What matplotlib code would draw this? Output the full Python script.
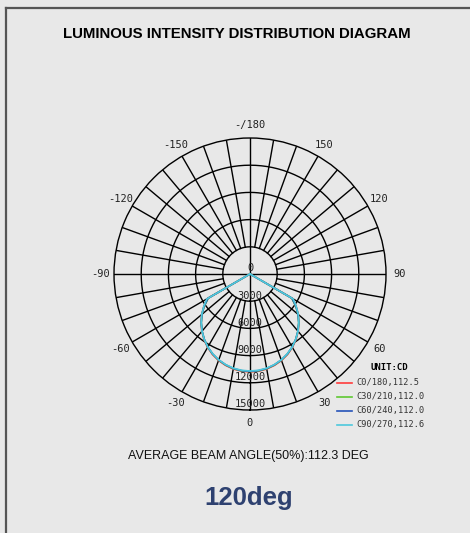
import numpy as np
import matplotlib
matplotlib.use("Agg")
import matplotlib.pyplot as plt
from matplotlib.lines import Line2D
from matplotlib.transforms import offset_copy

# gamma angles (deg) for half a C-plane, mirrored for the opposite plane
gamma = [0, 5, 10, 15, 20, 25, 30, 35, 40, 45, 50, 55, 60, 65, 70, 75, 80, 85, 90]

# intensity (cd) per C-plane pair
c0_180 = [10800, 10760, 10640, 10430, 10150, 9790, 9350, 8840, 8270, 7640, 6950, 6200, 5400, 0, 0, 0, 0, 0, 0]
c30_210 = [10760, 10720, 10600, 10390, 10110, 9750, 9310, 8800, 8230, 7600, 6910, 6160, 5300, 0, 0, 0, 0, 0, 0]
c60_240 = [10740, 10700, 10580, 10370, 10090, 9740, 9300, 8790, 8220, 7600, 6920, 6180, 5350, 0, 0, 0, 0, 0, 0]
c90_270 = [10700, 10660, 10550, 10350, 10080, 9720, 9300, 8800, 8240, 7620, 6950, 6220, 5500, 0, 0, 0, 0, 0, 0]

series = [c0_180, c30_210, c60_240, c90_270]
names = ["C0/180,112.5", "C30/210,112.0", "C60/240,112.0", "C90/270,112.6"]
colors = ["#ff3c3c", "#5ec832", "#2552b8", "#4ec8dc"]

rings = [3000, 6000, 9000, 12000, 15000]
angle_ticks = [0, 30, 60, 90, 120, 150, 180, 210, 240, 270, 300, 330]
angle_labels = ["0", "30", "60", "90", "120", "150", "-/180", "-150", "-120", "-90", "-60", "-30"]

bg = "#e8e8e8"
W, H = 470, 533
fig = plt.figure(figsize=(W / 100, H / 100), dpi=100, facecolor=bg)

# polar axes: centre at (250, 274) px, outer radius 136 px
cx, cy, R = 250, 274, 136
ax = fig.add_axes([(cx - R) / W, (H - cy - R) / H, 2 * R / W, 2 * R / H],
                  projection="polar")
ax.set_facecolor("none")
ax.set_theta_zero_location("S")
ax.set_ylim(0, 15000)
ax.grid(False)
ax.set_xticks([])
ax.set_yticks([])
ax.spines["polar"].set_color("black")
ax.spines["polar"].set_linewidth(1.0)

# grid: circles and radial spokes
t = np.linspace(0, 2 * np.pi, 361)
for r in rings[:-1]:
    ax.plot(t, np.full_like(t, r), color="black", lw=1.0)
for a in range(0, 360, 10):
    th = np.deg2rad(a)
    r0 = 0 if a % 90 == 0 else rings[0]
    ax.plot([th, th], [r0, 15000], color="black", lw=1.0)

# curves
g = np.array(gamma)
for vals, col in zip(series, colors):
    v = np.array(vals)
    th = np.deg2rad(np.concatenate([-g[::-1], g[1:]]))
    rr = np.concatenate([v[::-1], v[1:]])
    ax.plot(th, rr, color=col, lw=1.2)

# radial labels along the downward axis
lab_tr = offset_copy(ax.transData, fig=fig, y=4.0, units="points")
for r in [0] + rings:
    ax.text(0, r, str(r), transform=lab_tr, ha="center", va="center",
            family="DejaVu Sans Mono", fontsize=7.5, color="#222222")

# angle labels
for a, s in zip(angle_ticks, angle_labels):
    ax.text(np.deg2rad(a), 16450, s, ha="center", va="center", clip_on=False,
            family="DejaVu Sans Mono", fontsize=7.5, color="#222222")

# legend
def fx(x):
    return x / W

def fy(y):
    return 1 - y / H

fig.text(fx(389), fy(368), "UNIT:CD", ha="center", va="center",
         family="DejaVu Sans Mono", fontsize=6.5, weight="bold", color="black")
for i, (nm, col) in enumerate(zip(names, colors)):
    y = 383 + 14 * i
    fig.add_artist(Line2D([fx(337), fx(352)], [fy(y), fy(y)], color=col, lw=1.2))
    fig.text(fx(356), fy(y), nm, ha="left", va="center",
             family="DejaVu Sans Mono", fontsize=6.2, color="#333333")

# texts
fig.text(fx(237), fy(34), "LUMINOUS INTENSITY DISTRIBUTION DIAGRAM", ha="center",
         va="center", family="Liberation Sans", fontsize=10.8, weight="bold",
         color="black")
fig.text(fx(248), fy(456), "AVERAGE BEAM ANGLE(50%):112.3 DEG", ha="center",
         va="center", family="Liberation Sans", fontsize=9.0, color="#111111")
fig.text(fx(249), fy(498), "120deg", ha="center", va="center",
         family="Liberation Sans", fontsize=18.5, weight="bold", color="#2e4170")

# frame
fig.add_artist(Line2D([fx(6), fx(6)], [fy(8), 0], color="#555555", lw=1.6))
fig.add_artist(Line2D([fx(6), 1], [fy(8), fy(8)], color="#555555", lw=1.6))

fig.savefig("out.png", dpi=100, facecolor=bg)
